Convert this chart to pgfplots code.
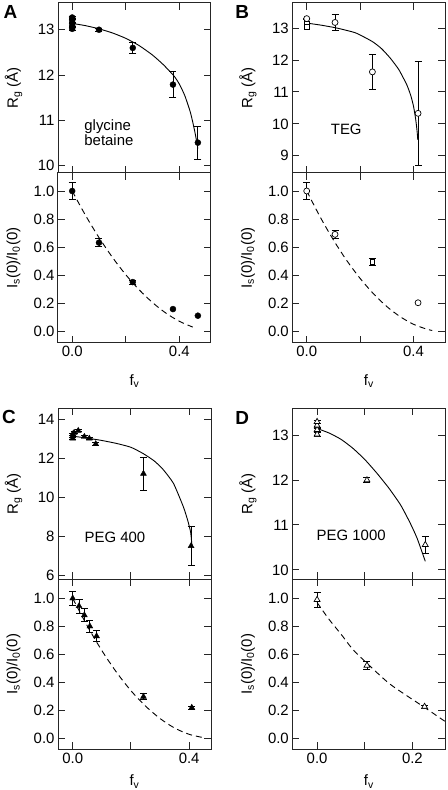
\documentclass[border=0pt]{standalone}
\usepackage{fontspec}
\setmainfont{Liberation Sans}
\usepackage{pgfplots}
\pgfplotsset{compat=1.18}
\tikzset{annot/.style={font=\fontsize{15}{17}\selectfont, inner sep=0pt}}
\pgfplotsset{
  panel/.style={
    scale only axis, width=153bp, anchor=south west,
    axis line style={line width=1bp, black!85},
    tick align=inside, tick pos=both, major tick length=7bp,
    every tick/.style={line width=1bp, black!85},
    tick label style={font=\fontsize{15}{17}\selectfont},
    label style={font=\fontsize{15}{17}\selectfont},
    /pgf/number format/assume math mode=true,
    ylabel style={at={(axis description cs:-0.29,0.5)}, anchor=center},
    xlabel style={at={(axis description cs:0.5,-0.222)}, anchor=center},
  },
  upper/.style={panel, height=170bp, xticklabels={}, ylabel={R\textsubscript{g} (Å)}},
  lower/.style={panel, height=170bp, ymin=-0.08, ymax=1.128,
    ytick={0,0.2,0.4,0.6,0.8,1.0},
    yticklabel style={/pgf/number format/fixed, /pgf/number format/fixed zerofill, /pgf/number format/precision=1},
    ylabel={I\textsubscript{s}(0)/I\textsubscript{0}(0)}, xlabel={f\textsubscript{v}}},
  ebars/.style={error bars/.cd, y dir=both, y explicit,
    error bar style={line width=0.8bp, black},
    error mark options={rotate=90, mark size=3.5bp, line width=0.8bp, black}},
  fitline/.style={black, line width=0.9bp, smooth, tension=0.35},
  dashfit/.style={black, line width=0.9bp, smooth, dash pattern=on 6bp off 4bp},
  fcirc/.style={only marks, mark=*, mark size=3bp, mark options={fill=black, draw=black}},
  ocirc/.style={only marks, mark=*, mark size=3bp, mark options={fill=white, draw=black, line width=0.7bp}},
  osq/.style={only marks, mark=square*, mark size=2.4bp, mark options={fill=white, draw=black, line width=0.7bp}},
  ftri/.style={only marks, mark=triangle*, mark size=3.4bp, mark options={fill=black, draw=black}},
  otri/.style={only marks, mark=triangle*, mark size=3.4bp, mark options={fill=white, draw=black, line width=0.7bp}},
}
\begin{document}
\begin{tikzpicture}
\useasboundingbox (0,0) rectangle (448bp,790bp);
% ---------------- A ----------------
\begin{axis}[upper, at={(58bp,617bp)}, xmin=-0.053, xmax=0.518, ymin=9.84, ymax=13.59,
  xtick={0,0.2,0.4}, ytick={10,11,12,13}]
\addplot[fitline] coordinates {(0,13.14)(0.05,13.09)(0.10,13.02)(0.15,12.93)(0.20,12.81)(0.25,12.65)(0.30,12.44)(0.34,12.23)(0.38,11.98)(0.40,11.80)(0.42,11.55)(0.44,11.20)(0.45,10.96)(0.46,10.68)(0.469,10.38)};
\addplot[fcirc, ebars] table[row sep=\\, x=x, y=y, y error=e] {
x y e\\ 0 13.27 0.03\\ 0 13.20 0.03\\ 0 13.10 0.03\\ 0 13.02 0.03\\ 0.10 13.00 0.03\\ 0.226 12.60 0.12\\ 0.376 11.79 0.28\\ 0.469 10.51 0.36\\};
\node[annot, align=left] at (axis cs:0.137,10.74) {glycine\\[-2bp]betaine};
\end{axis}
\begin{axis}[lower, at={(58bp,447bp)}, xmin=-0.053, xmax=0.518,
  xtick={0,0.2,0.4}, xticklabels={0.0,,0.4}]
\addplot[dashfit] coordinates {(0,1.0)(0.05,0.826)(0.1,0.669)(0.15,0.529)(0.2,0.405)(0.25,0.298)(0.3,0.207)(0.35,0.132)(0.4,0.074)(0.45,0.033)};
\addplot[fcirc, ebars] table[row sep=\\, x=x, y=y, y error=e] {
x y e\\ 0 1.0 0.06\\ 0.1 0.633 0.03\\ 0.226 0.353 0.015\\};
\addplot[fcirc] coordinates {(0.376,0.161)(0.469,0.114)};
\end{axis}
% ---------------- B ----------------
\begin{axis}[upper, at={(292.3bp,617bp)}, xmin=-0.054, xmax=0.519, ymin=8.46, ymax=13.79,
  xtick={0,0.2,0.4}, ytick={9,10,11,12,13}]
\addplot[fitline] coordinates {(0,13.16)(0.05,13.10)(0.104,13.02)(0.15,12.93)(0.187,12.84)(0.246,12.58)(0.28,12.36)(0.313,12.06)(0.345,11.70)(0.375,11.22)(0.39,10.88)(0.40,10.55)(0.408,10.15)(0.413,9.8)(0.416,9.5)};
\addplot[osq] coordinates {(0,13.15)(0,13.05)};
\addplot[ocirc, ebars] table[row sep=\\, x=x, y=y, y error=e] {
x y e\\ 0 13.30 0.02\\ 0.106 13.18 0.26\\ 0.246 11.63 0.55\\ 0.417 10.33 1.64\\};
\node[annot] at (axis cs:0.148,9.84) {TEG};
\end{axis}
\begin{axis}[lower, at={(292.3bp,447bp)}, xmin=-0.054, xmax=0.519,
  xtick={0,0.2,0.4}, xticklabels={0.0,,0.4}]
\addplot[dashfit] coordinates {(0,1.0)(0.05,0.817)(0.1,0.652)(0.15,0.506)(0.2,0.379)(0.25,0.270)(0.3,0.179)(0.35,0.107)(0.4,0.053)(0.45,0.018)(0.47,0.009)};
\addplot[osq, ebars] table[row sep=\\, x=x, y=y, y error=e] {
x y e\\ 0.246 0.4975 0.025\\};
\addplot[ocirc, ebars] table[row sep=\\, x=x, y=y, y error=e] {
x y e\\ 0 1.0 0.06\\ 0.106 0.692 0.03\\};
\addplot[ocirc] coordinates {(0.417,0.206)};
\end{axis}
% ---------------- C ----------------
\begin{axis}[upper, height=171bp, at={(58bp,210.7bp)}, xmin=-0.0505, xmax=0.475, ymin=5.78, ymax=14.55,
  xtick={0,0.2,0.4}, ytick={6,8,10,12,14}]
\addplot[fitline] coordinates {(0,13.12)(0.05,13.02)(0.1,12.90)(0.15,12.75)(0.2,12.55)(0.243,12.22)(0.28,11.85)(0.31,11.42)(0.346,10.70)(0.38,9.50)(0.395,8.80)(0.405,8.2)(0.41,7.45)};
\addplot[ftri, ebars] table[row sep=\\, x=x, y=y, y error=e] {
x y e\\ 0 13.0 0.05\\ 0 13.12 0.05\\ 0 13.22 0.05\\ 0.005 13.3 0.05\\ 0.019 13.40 0.05\\ 0.04 13.09 0.05\\ 0.057 13.0 0.05\\ 0.079 12.72 0.08\\ 0.243 11.2 0.85\\ 0.4065 7.49 0.99\\};
\node[annot] at (axis cs:0.145,7.92) {PEG 400};
\end{axis}
\begin{axis}[lower, at={(58bp,40.7bp)}, xmin=-0.0505, xmax=0.475, ymin=-0.079, ymax=1.136,
  xtick={0,0.2,0.4}, xticklabels={0.0,,0.4}, xlabel style={at={(axis description cs:0.5,-0.19)}}]
\addplot[dashfit] coordinates {(0,1)(0.05,0.803)(0.1,0.627)(0.15,0.473)(0.2,0.340)(0.25,0.230)(0.3,0.141)(0.35,0.073)(0.4,0.028)(0.45,0.004)};
\addplot[ftri, ebars] table[row sep=\\, x=x, y=y, y error=e] {
x y e\\ 0 1.0 0.05\\ 0.0217 0.945 0.05\\ 0.04 0.88 0.045\\ 0.059 0.80 0.045\\ 0.082 0.73 0.04\\ 0.243 0.297 0.02\\ 0.409 0.219 0.01\\};
\end{axis}
% ---------------- D ----------------
\begin{axis}[upper, height=171bp, at={(292.3bp,210.7bp)}, xmin=-0.052, xmax=0.269, ymin=9.79, ymax=13.60,
  xtick={0,0.1,0.2}, ytick={10,11,12,13}]
\addplot[fitline] coordinates {(0,13.15)(0.025,13.05)(0.05,12.91)(0.075,12.71)(0.1,12.46)(0.125,12.16)(0.15,11.83)(0.175,11.45)(0.195,11.05)(0.21,10.70)(0.227,10.19)};
\addplot[otri, ebars] table[row sep=\\, x=x, y=y, y error=e] {
x y e\\ 0 13.02 0.04\\ 0 13.12 0.04\\ 0 13.22 0.04\\ 0 13.30 0.04\\ 0.1046 12.0 0.05\\ 0.227 10.56 0.19\\};
\node[annot] at (axis cs:0.0715,10.77) {PEG 1000};
\end{axis}
\begin{axis}[lower, at={(292.3bp,40.7bp)}, xmin=-0.052, xmax=0.269, ymin=-0.079, ymax=1.136,
  xtick={0,0.1,0.2}, xticklabels={0.0,,0.2}, xlabel style={at={(axis description cs:0.5,-0.19)}}]
\addplot[dashfit] coordinates {(0,0.97)(0.025,0.85)(0.05,0.745)(0.075,0.635)(0.1046,0.536)(0.15,0.395)(0.19,0.30)(0.223,0.226)(0.269,0.119)};
\addplot[otri, ebars] table[row sep=\\, x=x, y=y, y error=e] {
x y e\\ 0 0.99 0.055\\ 0.1046 0.52 0.03\\ 0.2255 0.226 0.01\\};
\end{axis}
% panel letters
\node[font=\bfseries\fontsize{19}{21}\selectfont, inner sep=0pt] at (10.5bp,778bp) {A};
\node[font=\bfseries\fontsize{19}{21}\selectfont, inner sep=0pt] at (242.3bp,778.3bp) {B};
\node[font=\bfseries\fontsize{19}{21}\selectfont, inner sep=0pt] at (9bp,373.3bp) {C};
\node[font=\bfseries\fontsize{19}{21}\selectfont, inner sep=0pt] at (242.3bp,372.5bp) {D};
\end{tikzpicture}
\end{document}
